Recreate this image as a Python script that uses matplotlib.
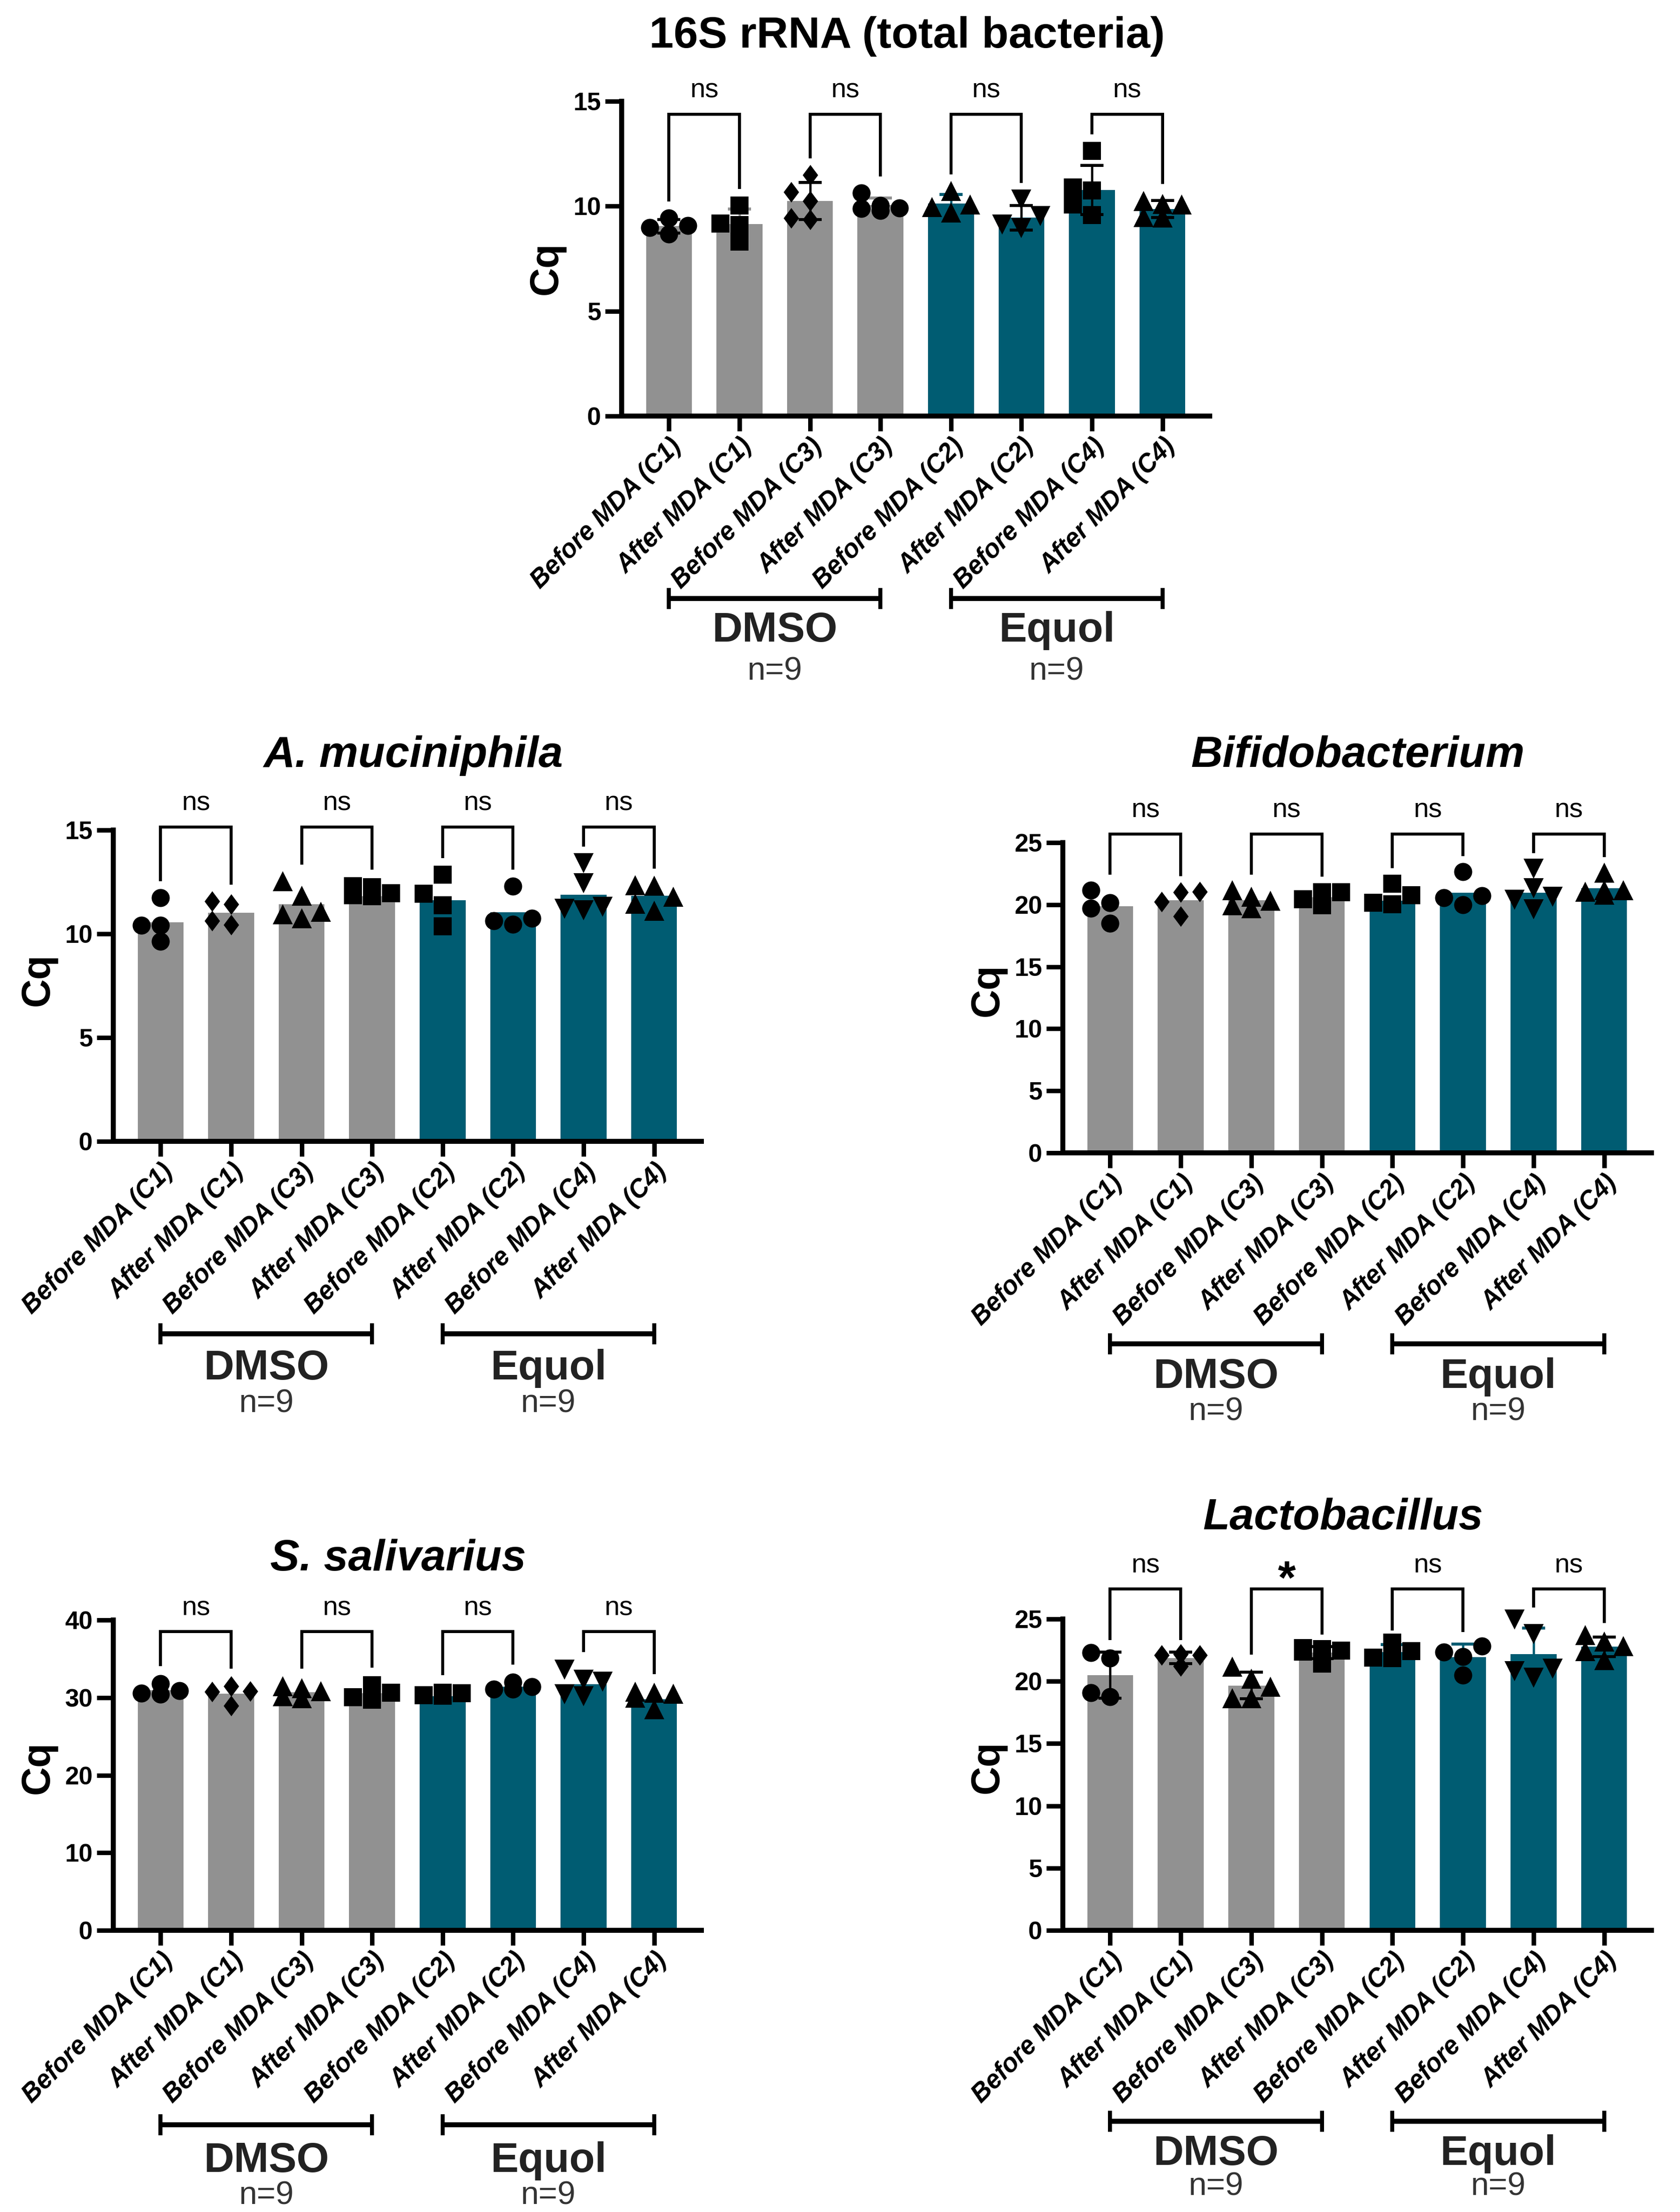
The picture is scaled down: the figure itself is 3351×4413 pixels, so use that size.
import numpy as np
import matplotlib
matplotlib.use("Agg")
import matplotlib.pyplot as plt
from matplotlib.path import Path
from matplotlib.transforms import blended_transform_factory

plt.rcParams['font.family'] = ['Liberation Sans', 'DejaVu Sans']

# ---------------- data ----------------
categories = ["Before MDA (C1)", "After MDA (C1)", "Before MDA (C3)", "After MDA (C3)",
              "Before MDA (C2)", "After MDA (C2)", "Before MDA (C4)", "After MDA (C4)"]
groups = ["DMSO", "Equol"]
group_n = ["n=9", "n=9"]

# 16S rRNA (total bacteria)
s16_means = [9.05, 9.14, 10.24, 10.05, 10.12, 9.45, 10.78, 9.87]
s16_sd = [0.32, 0.72, 0.88, 0.35, 0.44, 0.59, 1.17, 0.40]
s16_points = [[9.44, 8.67, 9.07, 8.97],
              [10.04, 9.17, 9.11, 8.31],
              [11.48, 10.68, 10.25, 9.37, 9.43],
              [10.62, 9.80, 10.03, 9.89, 9.92],
              [10.73, 10.08, 9.70, 9.97],
              [10.32, 9.54, 8.96, 9.12],
              [12.64, 10.74, 10.90, 10.09, 9.57],
              [10.10, 10.24, 10.08, 9.46, 9.48]]
s16_sig = ["ns", "ns", "ns", "ns"]

# A. muciniphila
amu_means = [10.56, 11.02, 11.43, 11.80, 11.63, 11.03, 11.89, 11.83]
amu_points = [[11.75, 10.42, 10.40, 9.63],
              [11.43, 11.58, 10.44, 10.62],
              [12.54, 11.84, 11.06, 10.75, 10.95],
              [12.30, 12.25, 11.95, 11.85, 11.80],
              [12.84, 11.93, 11.38, 10.36],
              [12.29, 10.46, 10.76, 10.62],
              [13.40, 12.45, 11.13, 11.30, 11.21],
              [12.34, 12.32, 11.79, 11.44, 11.11]]
amu_sig = ["ns", "ns", "ns", "ns"]

# Bifidobacterium
bif_means = [19.88, 20.35, 20.35, 20.60, 20.30, 20.97, 20.97, 21.33]
bif_points = [[20.14, 18.50, 21.15, 19.71],
              [21.03, 20.99, 20.23, 19.07],
              [21.17, 20.63, 19.69, 19.96, 20.32],
              [20.45, 21.02, 20.99, 19.94],
              [20.02, 20.76, 21.69, 20.16],
              [22.64, 19.98, 20.70, 20.55],
              [22.92, 21.32, 20.62, 20.41, 19.62],
              [22.58, 21.15, 21.15, 21.06, 20.78]]
bif_sig = ["ns", "ns", "ns", "ns"]

# S. salivarius
ssa_means = [30.96, 30.48, 30.70, 30.59, 30.20, 31.40, 31.71, 29.80]
ssa_points = [[31.82, 30.42, 30.59, 30.89],
              [31.45, 30.74, 30.85, 28.95],
              [31.47, 31.24, 30.83, 30.18, 29.92],
              [31.60, 29.70, 30.03, 30.63],
              [30.22, 30.61, 30.29, 30.55],
              [31.99, 31.06, 31.11, 31.43],
              [33.63, 32.29, 32.08, 30.16, 30.42],
              [30.53, 30.74, 30.63, 29.97, 28.48]]
ssa_sig = ["ns", "ns", "ns", "ns"]

# Lactobacillus
lac_means = [20.50, 21.87, 19.66, 22.30, 22.34, 21.94, 22.18, 22.78]
lac_sd = [1.85, 0.46, 1.07, 0.50, 0.60, 1.04, 2.08, 0.78]
lac_points = [[21.87, 22.31, 18.75, 19.09],
              [21.20, 22.18, 22.11, 22.11],
              [21.18, 20.20, 19.57, 18.63, 18.63],
              [22.58, 21.41, 22.66, 22.38, 22.45],
              [21.86, 22.43, 23.12, 21.91],
              [22.81, 21.98, 22.34, 20.50],
              [24.97, 23.80, 20.27, 21.01, 20.81],
              [23.20, 23.71, 22.82, 22.42, 21.68]]
lac_sig = ["ns", "*", "ns", "ns"]

# ---------------- style / layout ----------------
W, H, DPI = 3351, 4413, 300
GREY = "#919191"
TEAL = "#005C72"
bar_colors = [GREY] * 4 + [TEAL] * 4

DIAMOND = Path([(0, 1), (0.75, 0), (0, -1), (-0.75, 0), (0, 1)],
               [Path.MOVETO, Path.LINETO, Path.LINETO, Path.LINETO, Path.CLOSEPOLY])


def pt(px):
    return px * 72.0 / DPI


MS = {"o": pt(36), "s": pt(36), "^": pt(40), "v": pt(40), "D": pt(41)}
SWARM_D = 38

fig = plt.figure(figsize=(W / DPI, H / DPI), dpi=DPI)
fig.patch.set_facecolor("white")


def swarm(vals, ppu_y, d):
    order = sorted(range(len(vals)), key=lambda i: vals[i])
    placed = []
    offs = [0.0] * len(vals)
    for i in order:
        y = vals[i] * ppu_y
        best, bestd = 0.0, -1
        for k in (0, -1, 1):
            x = k * d
            md = min([np.hypot(x - px, y - py) for px, py in placed] + [1e9])
            if md >= 0.85 * d:
                best = x
                break
            if md > bestd:
                best, bestd = x, md
        placed.append((best, y))
        offs[i] = best
    return offs


def draw(cfg):
    x0, x1, yt, yb = cfg["box"]
    ax = fig.add_axes([x0 / W, 1 - yb / H, (x1 - x0) / W, (yb - yt) / H])
    ymax = cfg["ymax"]
    xl = (-0.67, 7.67)
    ax.set_xlim(*xl)
    ax.set_ylim(0, ymax)
    ppu_x = (x1 - x0) / (xl[1] - xl[0])
    ppu_y = (yb - yt) / ymax
    xs = np.arange(8)
    means = cfg["means"]
    ax.bar(xs, means, width=0.65, color=bar_colors, linewidth=0, zorder=2)
    sd = cfg.get("sd")
    if sd is not None:
        for i in range(8):
            ec = bar_colors[i] if cfg["errc"][i] == "bar" else "black"
            ax.errorbar(xs[i], means[i], yerr=sd[i], fmt="none", ecolor=ec,
                        elinewidth=pt(4.5), capsize=pt(23), capthick=pt(6), zorder=3)
    markers = cfg["markers"]
    tops = []
    for i in range(8):
        vals = cfg["points"][i]
        offs = swarm(vals, ppu_y, SWARM_D)
        m = markers[i]
        mk = DIAMOND if m == "D" else m
        ax.plot(xs[i] + np.array(offs) / ppu_x, vals, ls="none", marker=mk,
                ms=MS[m], color="black", mec="black", mew=0, zorder=4, clip_on=False)
        top = max(vals)
        if sd is not None:
            top = max(top, means[i] + sd[i])
        tops.append(top + cfg["gap"] / ppu_y)
    # significance brackets
    by = cfg["bracket_y"]
    for j in range(4):
        a, b = 2 * j, 2 * j + 1
        ax.plot([a, a, b, b], [tops[a], by, by, tops[b]], color="black", lw=pt(6),
                clip_on=False, solid_joinstyle="miter", solid_capstyle="butt", zorder=5)
        lab = cfg["sig"][j]
        if lab == "*":
            ax.annotate(lab, xy=((a + b) / 2, by), xytext=(0, pt(-8)), textcoords="offset points",
                        ha="center", va="baseline", fontsize=22, fontweight="bold",
                        annotation_clip=False)
        else:
            ax.annotate(lab, xy=((a + b) / 2, by), xytext=(0, pt(33)), textcoords="offset points",
                        ha="center", va="baseline", fontsize=13, annotation_clip=False)
    # axes styling
    for s in ("top", "right"):
        ax.spines[s].set_visible(False)
    for s in ("left", "bottom"):
        ax.spines[s].set_linewidth(pt(10))
        ax.spines[s].set_capstyle("projecting")
    ax.set_yticks(cfg["yticks"])
    ax.set_yticklabels([str(v) for v in cfg["yticks"]], fontsize=12, fontweight="bold")
    ax.tick_params(axis="y", direction="out", width=pt(9), length=pt(33), pad=pt(8))
    ax.set_xticks(xs)
    ax.set_xticklabels(categories, rotation=45, ha="right", rotation_mode="anchor",
                       fontsize=12.2, fontweight="bold", fontstyle="italic")
    ax.tick_params(axis="x", direction="out", width=pt(9), length=pt(30), pad=pt(6))
    ax.set_facecolor("none")
    # y label
    fig.text((x0 - 150) / W, 1 - (yt + (1 - cfg["cq_y"]) * (yb - yt)) / H, "Cq",
             rotation=90, ha="center", va="center", fontsize=19, fontweight="bold")
    # title
    tx, ty = cfg["title_xy"]
    fig.text(tx / W, 1 - (ty + 32) / H, cfg["title"], ha="center", va="baseline",
             fontsize=21, fontweight="bold", fontstyle=cfg["tstyle"])
    # group brackets
    trans = blended_transform_factory(ax.transData, fig.transFigure)
    gb, gt, gn = cfg["grp_off"]
    for g, (a, b) in enumerate(((0, 3), (4, 7))):
        yy = 1 - (yb + gb) / H
        ax.plot([a, b], [yy, yy], transform=trans, color="black", lw=pt(10),
                solid_capstyle="butt", clip_on=False)
        for xe in (a, b):
            ax.plot([xe, xe], [yy - 21 / H, yy + 21 / H], transform=trans, color="black",
                    lw=pt(8), solid_capstyle="butt", clip_on=False)
        ax.text((a + b) / 2, 1 - (yb + gt + 29) / H, groups[g], transform=trans,
                ha="center", va="baseline", fontsize=20, fontweight="bold", color="#222222")
        ax.text((a + b) / 2, 1 - (yb + gn + 23) / H, group_n[g], transform=trans,
                ha="center", va="baseline", fontsize=15.5, color="#333333")
    return ax


MK_TOP = ["o", "s", "D", "o", "^", "v", "s", "^"]
MK_LOW = ["o", "D", "^", "s", "s", "o", "v", "^"]

charts = [
    dict(title="16S rRNA (total bacteria)", tstyle="normal", title_xy=(1809, 63),
         box=(1240, 2413, 202, 830), ymax=15, yticks=[0, 5, 10, 15],
         means=s16_means, sd=s16_sd, errc=["k", "bar", "k", "bar", "bar", "k", "k", "k"],
         points=s16_points, markers=MK_TOP, sig=s16_sig, bracket_y=14.38, gap=33,
         cq_y=0.47, grp_off=(364, 421, 503)),
    dict(title="A. muciniphila", tstyle="italic", title_xy=(825, 1498),
         box=(226, 1399, 1656, 2277), ymax=15, yticks=[0, 5, 10, 15],
         means=amu_means, points=amu_points, markers=MK_LOW, sig=amu_sig,
         bracket_y=15.15, gap=33, cq_y=0.52, grp_off=(384, 446, 518)),
    dict(title="Bifidobacterium", tstyle="italic", title_xy=(2708, 1498),
         box=(2120, 3294, 1681, 2300), ymax=25, yticks=[0, 5, 10, 15, 20, 25],
         means=bif_means, points=bif_points, markers=MK_LOW, sig=bif_sig,
         bracket_y=25.7, gap=31, cq_y=0.525, grp_off=(381, 440, 511)),
    dict(title="S. salivarius", tstyle="italic", title_xy=(794, 3101),
         box=(226, 1399, 3232, 3851), ymax=40, yticks=[0, 10, 20, 30, 40],
         means=ssa_means, points=ssa_points, markers=MK_LOW, sig=ssa_sig,
         bracket_y=38.5, gap=35, cq_y=0.525, grp_off=(388, 453, 523)),
    dict(title="Lactobacillus", tstyle="italic", title_xy=(2679, 3019),
         box=(2120, 3294, 3230, 3851), ymax=25, yticks=[0, 5, 10, 15, 20, 25],
         means=lac_means, sd=lac_sd, errc=["k", "k", "k", "k", "bar", "bar", "bar", "k"],
         points=lac_points, markers=MK_LOW, sig=lac_sig, bracket_y=27.4, gap=24,
         cq_y=0.525, grp_off=(381, 439, 505)),
]

for c in charts:
    draw(c)

fig.savefig("out.png", dpi=DPI, facecolor="white")
